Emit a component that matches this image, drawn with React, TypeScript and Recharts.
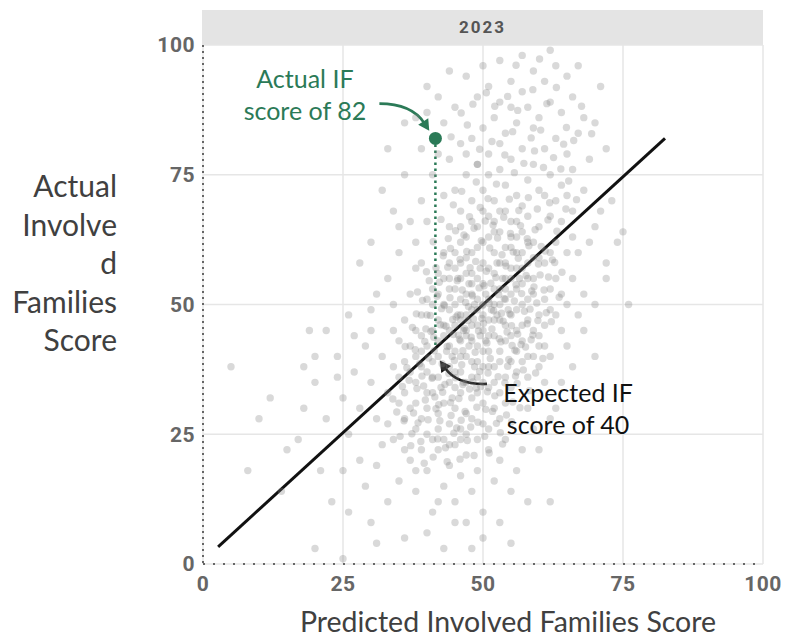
import {
  ScatterChart,
  Scatter,
  XAxis,
  YAxis,
  CartesianGrid,
  ReferenceLine,
  ReferenceDot,
} from "recharts";

const panelTitle = "2023";
const xTitle = "Predicted Involved Families Score";
const yTitleLines = ["Actual", "Involve", "d", "Families", "Score"];
const xTicks = [0, 25, 50, 75, 100];
const yTicks = [0, 25, 50, 75, 100];

// school points: [predicted, actual]
const coreCloud: [number, number][] = [
  [37,30],[39,28],[40,33],[42,29],[43,31],[44,35],[45,30],[46,33],[47,29],[48,32],[49,36],[50,31],[51,34],[52,38],
  [38,35],[39,38],[41,36],[42,40],[43,38],[44,42],[45,37],[46,40],[47,44],[48,39],[49,42],[50,45],[51,41],[52,44],
  [53,47],[54,43],[55,48],[56,45],[57,50],[58,47],[40,42],[41,45],[42,47],[43,44],[44,49],[45,46],[46,51],[47,48],
  [48,52],[49,49],[50,54],[51,51],[52,56],[53,53],[54,58],[55,55],[56,60],[57,57],[58,62],[59,55],[60,59],[42,52],
  [43,55],[44,53],[45,57],[46,55],[47,59],[48,56],[49,61],[50,58],[51,63],[52,60],[53,64],[54,61],[55,66],[39,44],
  [38,40],[40,48],[41,50],[36,33],[37,37],[38,31],[44,27],[46,26],[48,28],[50,27],[52,30],[53,33],[54,36],[55,39],
  [56,41],[57,43],[58,40],[59,45],[60,48],[61,51],[62,53],[60,42],[47,35],[48,46],[49,33],[50,38],[51,47],[52,50],
  [53,41],[54,51],[55,44],[56,53],[57,46],[58,55],[46,43],[45,41],[44,38],[43,46],[42,43],[41,39],[40,37],[39,41],
  [47,52],[48,49],[49,55],[50,50],[51,57],[52,53],[53,58],[54,55],[55,61],[56,57],[45,50],[46,47],[44,45],[43,50],
  [42,36],[41,33],[40,30],[45,34],[46,37],[47,40],[48,43],[49,46],[50,41],[51,38],[52,35],[53,39],[54,46],[55,52],
  [56,49],[57,54],[58,51],[59,52],[48,60],[47,63],[50,62],[52,64],[45,60],[46,62],[44,58],[43,60],[49,65],[51,67],
  [53,68],[47,56],[46,58],[42,56],[41,53],[40,51],[39,48],[38,45],[37,42],[36,39],[35,36],[35,31],[36,28],[38,26],
  [40,25],[42,26],[43,24],[45,23],[47,25],[49,24],[51,26],[53,28],[54,31],[55,34],[56,37],[57,39],[58,36],[59,40],
  [60,44],[61,46],[62,49],[63,55],[61,58],[59,62],[57,64],[55,63],[50,48],[49,51],[48,54],[47,45],[46,48],[45,53],
  [44,55],[48,36],[49,39],[50,35],[51,44],[52,47],[53,50],[54,53],[55,57],[56,63],[57,60],[58,58],[59,59],
  [44.5,40],[46.5,45],[48.5,50],[50.5,52],[52.5,48],[47.5,42],[49.5,44],[51.5,49],[45.5,48],[43.5,41],[53.5,55],
  [46.5,35],[44.5,32],[42.5,34],[48.5,38],[50.5,43],[52.5,58],[54.5,49],[56.5,55],[47.5,54],[45.5,55],[49.5,57],
];

const coreFill: [number, number][] = [
  [38.4,27.2],[39.7,31.6],[40.9,35.8],[41.6,29.9],[42.8,33.1],[43.9,36.7],[44.3,28.6],[45.7,31.9],[46.2,38.4],
  [47.6,33.7],[48.9,30.2],[49.4,37.1],[50.8,33.2],[51.3,39.6],[52.7,36.1],[53.2,42.8],[54.6,39.4],[55.1,45.9],
  [56.8,42.3],[57.4,48.7],[58.9,44.1],[59.6,50.3],[41.2,43.7],[42.4,46.1],[43.1,49.8],[44.7,44.2],[45.2,47.6],
  [46.9,50.4],[47.3,46.9],[48.1,51.7],[49.8,47.3],[50.2,53.6],[51.9,48.8],[52.3,55.2],[53.8,51.1],[54.1,57.4],
  [55.9,53.8],[56.3,58.9],[57.7,55.6],[58.2,61.3],[42.7,38.6],[43.6,41.9],[44.9,39.2],[45.8,43.3],[46.4,41.1],
  [47.9,43.7],[48.6,40.8],[49.2,44.9],[50.7,42.6],[51.6,45.3],[52.9,43.4],[53.6,46.8],[54.8,48.2],[55.6,50.7],
  [56.9,52.1],[40.3,39.7],[39.1,36.2],[38.2,33.8],[37.6,29.1],[36.8,35.4],[35.9,27.6],[39.8,45.3],[40.6,47.9],
  [41.8,51.6],[42.2,54.3],[43.7,57.2],[44.2,60.8],[45.9,58.7],[46.6,63.4],[47.1,60.2],[48.4,64.7],[49.7,62.3],
  [50.4,66.1],[51.2,60.9],[52.6,62.8],[53.4,59.6],[54.9,63.7],[55.4,60.1],[56.7,65.2],[57.9,62.7],[59.3,64.4],
  [60.4,61.2],[61.7,55.3],[62.4,58.6],[60.9,52.8],[61.3,48.4],[59.8,46.9],[58.6,43.2],[57.2,37.4],[56.1,34.8],
  [55.3,31.2],[54.2,28.7],[53.1,25.3],[51.7,29.4],[50.3,24.6],[49.1,27.3],[47.2,23.8],[46.1,27.7],[44.8,25.2],
  [43.3,22.4],[41.9,24.1],[40.2,27.8],[38.9,23.6],[37.3,25.1],[39.4,34.3],[41.4,32.2],[42.1,30.7],[43.2,34.6],
  [45.1,35.9],[46.8,29.4],[48.2,35.1],[49.6,34.2],[50.9,36.8],[52.1,32.4],[53.9,34.9],[54.4,38.1],[55.7,41.2],
  [56.2,44.3],[57.6,41.8],[58.4,49.1],[59.1,53.4],[60.2,55.7],[61.1,60.3],[44.1,51.3],[45.4,54.6],[46.3,52.8],
  [47.7,57.1],[48.7,58.3],[49.3,53.2],[50.6,56.4],[51.4,54.1],[52.8,51.9],[53.3,48.3],[54.3,44.7],[55.2,42.1],
  [47.4,49.6],[46.7,45.4],[48.3,47.2],[49.9,49.8],[50.1,46.4],[51.1,50.2],[45.6,44.1],[44.6,47.1],[43.4,45.8],
  [42.6,49.2],[41.3,41.1],[40.7,44.8],[39.6,42.9],[38.7,38.6],[37.9,41.3],[36.4,37.8],[42.3,27.6],[44.2,31.1],
  [46.4,34.6],[48.8,33.9],[50.5,29.8],[52.4,27.1],[47.8,26.4],[45.3,26.2],[55.8,36.2],[57.9,46.3],[58.7,52.6],
  [59.9,57.8],[53.7,66.8],[51.8,65.3],[49.5,68.7],[47.6,66.9],[45.1,64.2],[43.8,62.7],[42.9,59.4],[41.6,57.1],
  [40.4,54.6],[39.2,50.8],[38.1,48.2],[54.7,70.3],[56.4,68.1],[58.1,70.6],[59.7,68.4],[61.6,66.3],[63.2,64.1],
  [62.8,58.1],[64.1,56.2],[63.6,51.4],[62.2,46.7],[60.7,39.6],[59.4,36.8],[58.3,33.4],[56.6,30.1],[55.1,27.4],
  [53.5,23.1],[51.1,21.4],[48.4,20.9],[45.9,20.2],[43.6,19.7],[41.1,20.6],[39.5,19.4],[37.1,22.8],[35.2,24.6],
  [34.6,29.3],[33.9,31.8],[35.6,34.2],[36.1,41.9],[37.4,45.6],[38.3,52.4],[39.9,56.3],[41.1,62.1],[42.5,66.4],
  [44.7,69.2],[46.2,71.8],[48.8,73.6],[50.9,70.4],[52.4,73.2],[55.6,75.4],[57.3,77.2],[59.2,79.6],[60.8,76.4],
  [62.6,78.3],[64.4,80.9],[63.9,76.1],[65.3,73.8],[66.7,70.2],[64.8,68.4],[61.9,69.6],[53.9,78.8],[51.6,81.4],
  [49.4,79.9],[47.2,84.6],[55.3,83.3],[58.6,82.1],[60.3,83.6],[56.2,87.4],[54.4,90.1],[52.1,88.2],[58.9,91.4],
  [61.4,88.7],[63.1,91.8],[60.1,97.3],[55.9,96.1],[64.9,84.1],[66.2,81.6],[67.6,88.2],[69.4,82.9],[46.1,86.9],
  [44.3,82.3],[48.2,88.6],[50.6,90.8],
];

const upperCloud: [number, number][] = [
  [44,65],[46,68],[48,70],[50,72],[52,70],[54,73],[56,71],[58,74],[60,72],[62,75],[64,73],[66,76],[45,72],[47,75],
  [49,77],[51,79],[53,76],[55,78],[57,80],[59,77],[61,80],[63,82],[65,79],[67,83],[48,82],[50,84],[52,86],[54,83],
  [56,85],[58,88],[60,86],[62,89],[64,87],[66,90],[68,86],[49,90],[51,92],[53,89],[55,93],[57,91],[59,95],[61,93],
  [63,96],[65,94],[47,94],[45,88],[43,85],[42,79],[41,75],[43,71],[44,78],[46,81],[53,97],[57,98],[62,99],[50,96],
  [44,95],[40,92],[38,86],[39,80],[70,85],[72,80],[69,78],[68,72],[66,68],[64,66],[62,67],[60,65],[58,67],[56,66],
  [54,68],[52,66],[50,68],[48,66],[46,65],[71,92],[67,96],[55,88],[59,84],[61,71],[63,70],[65,71],[57,69],[53,81],
  [49,77],[47,79],[51,75],
];

const upperLeftStray: [number, number][] = [
  [36,85],[32,72],[34,68],[30,62],[28,58],[37,66],[38,62],[35,60],[33,55],[39,70],[40,66],[36,75],[31,52],[26,48],
  [30,49],[34,50],[37,52],[38,57],[35,65],[39,58],[33,80],[42,90],[40,87],
];

const leftCloud: [number, number][] = [
  [15,22],[18,30],[20,35],[22,28],[24,40],[25,32],[26,25],[27,37],[28,30],[29,42],[30,35],[31,28],[32,40],[33,33],
  [34,45],[30,45],[28,20],[25,18],[22,45],[20,40],[18,38],[17,24],[12,32],[10,28],[8,18],[5,38],[14,14],[21,18],
  [23,12],[26,10],[29,15],[31,19],[32,23],[33,27],[34,38],[35,43],[36,47],[27,44],[24,36],[19,45],
];

const lowerCloud: [number, number][] = [
  [30,8],[33,12],[35,16],[37,20],[38,14],[40,18],[41,10],[42,22],[43,15],[44,19],[45,12],[46,17],[47,21],[48,14],
  [49,18],[50,10],[51,22],[52,16],[53,20],[54,24],[55,14],[36,5],[40,6],[45,8],[50,5],[48,3],[39,22],[42,12],
  [47,8],[53,8],[56,18],[57,22],[34,24],[36,22],[38,18],[41,24],[44,23],[46,24],[43,3],[31,4],[25,1],[20,3],
  [58,30],[59,26],
];

const rightCloud: [number, number][] = [
  [62,40],[64,45],[65,50],[66,55],[67,60],[68,52],[69,62],[70,65],[72,58],[74,62],[64,35],[63,30],[66,38],[68,45],
  [70,50],[72,55],[61,35],[62,28],[60,22],[65,42],[67,48],[71,68],[73,70],[75,64],[70,40],[76,50],[60,38],[61,42],
  [63,48],[64,52],[65,60],[66,63],[63,62],[62,60],[62,12],[58,12],[55,4],
];

// fitted line end points and the highlighted school
const fitStart = { x: 2.7, y: 3.3 };
const fitEnd = { x: 82.5, y: 82 };
const highlightPredicted = 41.5;
const highlightActual = 82;
const highlightExpected = 41.5;

const scatterData = [
  ...coreCloud,
  ...coreFill,
  ...upperCloud,
  ...upperLeftStray,
  ...leftCloud,
  ...lowerCloud,
  ...rightCloud,
].map(([x, y]) => ({ x, y }));

const GREEN = "#2b7a57";
const tickStyle = {
  fontFamily: "Roboto",
  fontWeight: 700,
  fontSize: 21,
  letterSpacing: 0.5,
  fill: "#666",
};
const labelFont = "Lato, 'Open Sans', sans-serif";

function CurvedArrow(props: any) {
  const { x1, y1, x2, y2, color, bend } = props;
  const dx = x2 - x1;
  const dy = y2 - y1;
  const mx = (x1 + x2) / 2;
  const my = (y1 + y2) / 2;
  const cx = mx + dy * bend;
  const cy = my - dx * bend;
  const tx = x2 - cx;
  const ty = y2 - cy;
  const len = Math.sqrt(tx * tx + ty * ty) || 1;
  const ux = tx / len;
  const uy = ty / len;
  const head = 11;
  const half = 6;
  const bx = x2 - ux * head;
  const by = y2 - uy * head;
  return (
    <g>
      <path
        d={`M${x1},${y1} Q${cx},${cy} ${bx + ux * 2},${by + uy * 2}`}
        fill="none"
        stroke={color}
        strokeWidth={2.6}
      />
      <polygon
        points={`${x2},${y2} ${bx - uy * half},${by + ux * half} ${bx + uy * half},${by - ux * half}`}
        fill={color}
      />
    </g>
  );
}

function TwoLineText(props: any) {
  const { cx, cy, lines, color } = props;
  return (
    <text
      x={cx}
      y={cy}
      textAnchor="middle"
      fill={color}
      style={{ fontFamily: labelFont, fontSize: 25 }}
    >
      <tspan x={cx} dy={-7}>{lines[0]}</tspan>
      <tspan x={cx} dy={32}>{lines[1]}</tspan>
    </text>
  );
}

export default function App() {
  return (
    <div style={{ position: "absolute", left: 0, top: 0, width: 786, height: 640, background: "#fff" }}>
      <div
        style={{
          position: "absolute",
          left: 202,
          top: 10,
          width: 561,
          height: 35,
          background: "#e4e4e4",
          fontFamily: "Roboto",
          fontWeight: 700,
          fontSize: 17,
          letterSpacing: 2,
          color: "#555",
          textAlign: "center",
          lineHeight: "35px",
        }}
      >
        {panelTitle}
      </div>
      <ScatterChart
        width={786}
        height={640}
        margin={{ top: 45, right: 23, bottom: 46, left: 143 }}
        style={{ position: "absolute", left: 0, top: 0 }}
      >
        <CartesianGrid stroke="#e6e6e6" strokeWidth={1.5} />
        <XAxis
          type="number"
          dataKey="x"
          domain={[0, 100]}
          ticks={xTicks}
          tick={tickStyle}
          tickLine={false}
          tickMargin={6}
          axisLine={{ stroke: "#666", strokeWidth: 2, strokeDasharray: "2 8" }}
          height={30}
        />
        <YAxis
          type="number"
          dataKey="y"
          domain={[0, 100]}
          ticks={yTicks}
          tick={tickStyle}
          tickLine={false}
          axisLine={{ stroke: "#666", strokeWidth: 2, strokeDasharray: "2 4" }}
          width={60}
        />
        <Scatter
          data={scatterData}
          isAnimationActive={false}
          shape={(p: any) => (
            <circle cx={p.cx} cy={p.cy} r={3.7} fill="#828282" fillOpacity={0.3} />
          )}
        />
        <ReferenceLine
          segment={[fitStart, fitEnd]}
          stroke="#111"
          strokeWidth={3}
        />
        <ReferenceLine
          segment={[
            { x: highlightPredicted, y: highlightActual },
            { x: highlightPredicted, y: highlightExpected },
          ]}
          stroke={GREEN}
          strokeWidth={2.5}
          strokeDasharray="2.5 3.5"
        />
        <Scatter
          data={[{ x: highlightPredicted, y: highlightActual }]}
          isAnimationActive={false}
          shape={(p: any) => <circle cx={p.cx} cy={p.cy} r={6.5} fill={GREEN} />}
        />
        <ReferenceLine
          segment={[{ x: 31.5, y: 88.7 }, { x: 40.4, y: 83.5 }]}
          shape={(p: any) => <CurvedArrow {...p} color={GREEN} bend={0.27} />}
        />
        <ReferenceLine
          segment={[{ x: 50.7, y: 34.7 }, { x: 42.3, y: 39.2 }]}
          shape={(p: any) => <CurvedArrow {...p} color="#111" bend={0.27} />}
        />
        <ReferenceDot
          x={18.2}
          y={90.4}
          shape={(p: any) => (
            <TwoLineText {...p} lines={["Actual IF", "score of 82"]} color={GREEN} />
          )}
        />
        <ReferenceDot
          x={65.2}
          y={29.8}
          shape={(p: any) => (
            <TwoLineText {...p} lines={["Expected IF", "score of 40"]} color="#111" />
          )}
        />
      </ScatterChart>
      <div
        style={{
          position: "absolute",
          right: 786 - 117,
          top: 166,
          textAlign: "right",
          fontFamily: labelFont,
          fontSize: 30,
          lineHeight: "38.5px",
          color: "#404040",
        }}
      >
        {yTitleLines.map((t) => (
          <div key={t}>{t}</div>
        ))}
      </div>
      <div
        style={{
          position: "absolute",
          left: 208,
          width: 600,
          top: 604,
          textAlign: "center",
          fontFamily: labelFont,
          fontSize: 28.5,
          lineHeight: "34px",
          color: "#404040",
        }}
      >
        {xTitle}
      </div>
    </div>
  );
}
